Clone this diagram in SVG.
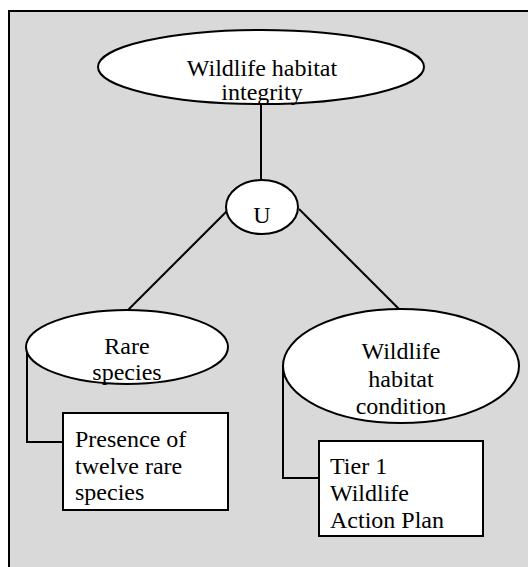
<svg xmlns="http://www.w3.org/2000/svg" width="528" height="567" viewBox="0 0 528 567">
<style>
.n{fill:#fff;stroke:#000;stroke-width:2}
.c{fill:none;stroke:#000;stroke-width:2}
text{font-family:"Liberation Serif","Times New Roman",serif;font-size:24px;fill:#000}
.m{text-anchor:middle}
</style>
<rect x="9" y="11" width="530" height="570" fill="#d9d9d9" stroke="#000" stroke-width="2"/>
<g id="connectors">
<line class="c" x1="261" y1="104" x2="261" y2="181"/>
<line class="c" x1="228" y1="210" x2="127" y2="311"/>
<line class="c" x1="299" y1="209" x2="400" y2="310"/>
<polyline class="c" points="27,347 27,442 63,442"/>
<polyline class="c" points="283,366 283,478 319,478"/>
</g>
<g id="n-integrity">
<ellipse class="n" cx="261" cy="67" rx="163" ry="37"/>
<text class="m" x="262" y="76">Wildlife habitat</text>
<text class="m" x="262" y="100">integrity</text>
</g>
<g id="n-union">
<ellipse class="n" cx="262" cy="207" rx="36" ry="27"/>
<text class="m" x="262" y="223">U</text>
</g>
<g id="n-rare">
<ellipse class="n" cx="127" cy="347" rx="101" ry="37"/>
<text class="m" x="127" y="354">Rare</text>
<text class="m" x="127" y="380">species</text>
</g>
<g id="n-condition">
<ellipse class="n" cx="401" cy="366" rx="118" ry="57"/>
<text class="m" x="401" y="359">Wildlife</text>
<text class="m" x="401" y="387">habitat</text>
<text class="m" x="401" y="414">condition</text>
</g>
<g id="n-presence">
<rect class="n" x="63" y="413" width="165" height="97"/>
<text x="75" y="447">Presence of</text>
<text x="75" y="474">twelve rare</text>
<text x="75" y="500">species</text>
</g>
<g id="n-tier1">
<rect class="n" x="319" y="441" width="164" height="95"/>
<text x="330" y="474">Tier 1</text>
<text x="330" y="501">Wildlife</text>
<text x="330" y="528">Action Plan</text>
</g>
</svg>
